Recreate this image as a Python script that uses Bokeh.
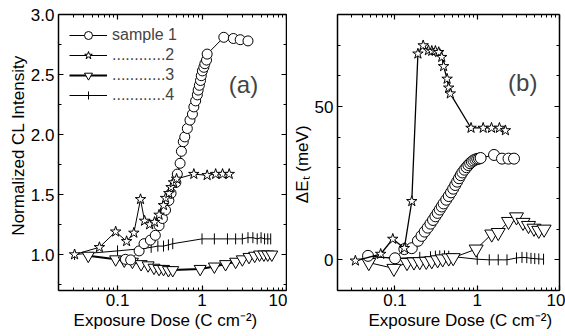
from bokeh.plotting import figure
from bokeh.layouts import row
from bokeh.models import (Range1d, FixedTicker, LogAxis, LinearAxis, Legend,
                          LegendItem, Label)
from bokeh.embed import file_html
from bokeh.resources import INLINE

# ---------------- data: panel (a) normalized CL intensity ----------------
a_s1_x = [0.124, 0.143, 0.18, 0.206, 0.245, 0.28, 0.31, 0.34, 0.37, 0.405, 0.43,
          0.49, 0.51, 0.55, 0.57, 0.60, 0.625, 0.67, 0.72, 0.77, 0.80, 0.84, 0.88,
          0.90, 0.93, 0.96, 0.98, 1.01, 1.05, 1.08, 1.13, 1.15, 1.81, 2.35, 2.83, 3.5]
a_s1_y = [0.96, 0.955, 1.03, 1.09, 1.12, 1.16, 1.24, 1.30, 1.37, 1.45, 1.51,
          1.60, 1.67, 1.76, 1.86, 1.94, 1.98, 2.05, 2.12, 2.17, 2.23, 2.28, 2.33,
          2.37, 2.41, 2.45, 2.49, 2.53, 2.56, 2.59, 2.62, 2.67, 2.81, 2.80, 2.79, 2.78]

a_s2_x = [0.031, 0.061, 0.095, 0.128, 0.156, 0.187, 0.209, 0.24, 0.274, 0.31, 0.35,
          0.37, 0.405, 0.43, 0.46, 0.50, 0.80, 1.15, 1.45, 1.75, 2.1]
a_s2_y = [1.0, 1.06, 1.19, 1.11, 1.18, 1.46, 1.28, 1.25, 1.27, 1.33, 1.41,
          1.47, 1.51, 1.56, 1.60, 1.63, 1.67, 1.66, 1.67, 1.67, 1.67]

a_s3_x = [0.045, 0.095, 0.12, 0.15, 0.19, 0.23, 0.27, 0.31, 0.35, 0.40, 0.45,
          0.95, 1.4, 1.9, 2.5, 3.0, 3.6, 4.2, 4.8, 5.4, 6.0, 6.7]
a_s3_y = [0.99, 0.96, 0.95, 0.94, 0.92, 0.91, 0.89, 0.88, 0.88, 0.87, 0.87,
          0.88, 0.90, 0.92, 0.94, 0.96, 0.98, 0.99, 1.0, 1.0, 1.0, 1.0]

a_s4_x = [0.031, 0.1, 0.2, 0.25, 0.3, 0.35, 0.4, 0.45, 1.0, 1.4, 2.0, 2.5, 3.0,
          3.5, 4.0, 4.5, 5.0, 5.5, 6.0, 6.5]
a_s4_y = [1.0, 1.03, 1.05, 1.06, 1.07, 1.07, 1.08, 1.09, 1.13, 1.13, 1.13, 1.13,
          1.13, 1.14, 1.14, 1.13, 1.14, 1.13, 1.13, 1.13]

# ---------------- data: panel (b) Delta E_t (meV) ----------------
b_s1_x = [0.047, 0.1, 0.13, 0.16, 0.19, 0.21, 0.23, 0.25, 0.27, 0.29, 0.31, 0.33,
          0.35, 0.37, 0.39, 0.42, 0.45, 0.48, 0.51, 0.54, 0.57, 0.60, 0.63, 0.66,
          0.70, 0.74, 0.78, 0.82, 0.86, 0.90, 0.95, 1.0, 1.05, 1.1, 1.6, 2.0, 2.4, 2.8]
b_s1_y = [1.3, 0.5, 3.5, 3.8, 6.2, 7.8, 9.2, 10.5, 11.8, 13.0, 14.2, 15.3,
          16.4, 17.4, 18.4, 19.6, 20.8, 22.0, 23.2, 24.4, 25.5, 26.6, 27.6, 28.5,
          29.4, 30.2, 30.9, 31.5, 32.0, 32.4, 32.7, 32.9, 33.0, 33.2, 34.2, 33.0, 33.0, 33.0]

b_s2_x = [0.033, 0.067, 0.094, 0.13, 0.16, 0.19, 0.22, 0.255, 0.28, 0.31, 0.34,
          0.37, 0.39, 0.43, 0.45, 0.47, 0.84, 1.18, 1.49, 1.86, 2.2]
b_s2_y = [-0.3, 1.9, 6.8, 3.8, 19.1, 67.2, 69.9, 68.3, 68.1, 68.1, 67.7,
          66.1, 63.1, 59.0, 56.1, 54.2, 43.0, 43.0, 43.0, 43.0, 42.2]

b_s3_x = [0.048, 0.097, 0.14, 0.17, 0.20, 0.24, 0.28, 0.33, 0.38, 0.45, 0.51,
          0.97, 1.5, 1.8, 2.4, 3.0, 3.6, 4.2, 4.9, 5.6, 6.5]
b_s3_y = [-0.9, -2.8, -0.9, -0.7, -0.6, -0.5, -0.3, 0.0, 0.3, 0.6, 0.7,
          3.5, 8.4, 8.9, 12.5, 14.0, 12.2, 11.2, 10.3, 9.6, 10.0]

b_s4_x = [0.05, 0.1, 0.2, 0.27, 0.31, 0.35, 0.40, 0.45, 1.0, 1.4, 1.8, 2.3, 3.0,
          3.5, 4.0, 4.5, 5.0, 5.6, 6.4]
b_s4_y = [1.0, 0.5, 0.8, 1.0, 1.2, 1.3, 1.3, 1.2, 0.2, 0.0, 0.0, 0.0, 0.6,
          0.8, 0.7, 0.5, 0.4, 0.3, 0.2]

legend_labels = ["sample 1", "............2", "............3", "............4"]
x_major = [0.1, 1, 10]
x_minor = [0.02, 0.03, 0.04, 0.05, 0.06, 0.07, 0.08, 0.09,
           0.2, 0.3, 0.4, 0.5, 0.6, 0.7, 0.8, 0.9,
           2, 3, 4, 5, 6, 7, 8, 9]
x_labels = {0.1: "0.1", 1: "1", 10: "10"}
a_y_major = [1.0, 1.5, 2.0, 2.5, 3.0]
a_y_minor = [0.75, 1.25, 1.75, 2.25, 2.75]
a_y_labels = {1.0: "1.0", 1.5: "1.5", 2.0: "2.0", 2.5: "2.5", 3.0: "3.0"}
b_y_major = [0, 50]
b_y_minor = [-10, 10, 20, 30, 40, 60, 70, 80]

FONT = "Liberation Sans"
NB = "\u00a0"
XTEXT = "Exposure Dose (C cm\u207b\u00b2)"
A_XLABEL = XTEXT + NB * 3
B_XLABEL = NB * 5 + XTEXT
A_YLABEL = NB * 3 + "Normalized CL Intensity"
B_YLABEL = "\u0394E\u209c (meV)" + NB * 5


def style_axis(ax, labels=True):
    ax.axis_line_width = 1.5
    ax.axis_line_color = "black"
    ax.major_tick_in = 5
    ax.major_tick_out = 0
    ax.minor_tick_in = 3
    ax.minor_tick_out = 0
    ax.major_tick_line_width = 1.2
    ax.minor_tick_line_width = 1
    ax.major_label_text_font = FONT
    ax.major_label_text_color = "black"
    ax.axis_label_text_font = FONT
    ax.axis_label_text_font_style = "normal"
    ax.axis_label_text_font_size = "17px"
    ax.axis_label_text_color = "black"
    if labels:
        ax.major_label_text_font_size = "17px"
    else:
        ax.major_label_text_font_size = "1px"
        ax.major_label_text_alpha = 0
        ax.major_label_standoff = 0


def make_panel(yr, ymaj, ymin, xlabel, ylabel, fw, mbl, mbr):
    p = figure(x_axis_type="log", x_range=Range1d(0.02, 10), y_range=yr,
               frame_width=fw, frame_height=276,
               min_border_left=mbl, min_border_right=mbr, min_border_top=14,
               min_border_bottom=46, output_backend="svg", toolbar_location=None)
    p.xgrid.visible = False
    p.ygrid.visible = False
    p.outline_line_color = None
    p.background_fill_color = "white"
    p.border_fill_color = "white"
    p.xaxis.ticker = FixedTicker(ticks=x_major, minor_ticks=x_minor)
    p.yaxis.ticker = FixedTicker(ticks=ymaj, minor_ticks=ymin)
    p.xaxis.major_label_overrides = x_labels
    p.xaxis.axis_label = xlabel
    p.yaxis.axis_label = ylabel
    for ax in p.xaxis + p.yaxis:
        style_axis(ax)
    p.xaxis.major_label_standoff = 3
    p.xaxis.axis_label_standoff = 2
    p.yaxis.major_label_standoff = 4
    p.yaxis.axis_label_standoff = 0
    top = LogAxis(ticker=FixedTicker(ticks=x_major, minor_ticks=x_minor))
    right = LinearAxis(ticker=FixedTicker(ticks=ymaj, minor_ticks=ymin))
    style_axis(top, labels=False)
    style_axis(right, labels=False)
    p.add_layout(top, "above")
    p.add_layout(right, "right")
    return p


def draw(p, xs, ys, marker, size, lw, angle=0.0):
    ln = p.line(xs, ys, line_color="black", line_width=lw)
    sc = p.scatter(xs, ys, marker=marker, size=size, angle=angle,
                   fill_color="white", line_color="black", line_width=1)
    return [ln, sc]


pa = make_panel(Range1d(0.7, 3.0), a_y_major, a_y_minor, A_XLABEL, A_YLABEL,
                228, 58, 1)
pa.yaxis[0].major_label_overrides = a_y_labels
r4 = draw(pa, a_s4_x, a_s4_y, "dash", 11, 1, angle=1.5708)
# legend-only stand-in for the vertical-bar marker (legend ignores glyph angle)
r4_leg = pa.scatter(a_s4_x, a_s4_y, marker="cross", size=11, line_color="black",
                    line_width=1, visible=False)
r3 = draw(pa, a_s3_x, a_s3_y, "inverted_triangle", 12, 2)
r1 = draw(pa, a_s1_x, a_s1_y, "circle", 10, 1)
r2 = draw(pa, a_s2_x, a_s2_y, "star", 11, 1)

leg = Legend(items=[LegendItem(label=legend_labels[0], renderers=r1),
                    LegendItem(label=legend_labels[1], renderers=r2),
                    LegendItem(label=legend_labels[2], renderers=r3),
                    LegendItem(label=legend_labels[3], renderers=[r4[0], r4_leg])],
             location="top_left", margin=11, padding=0, spacing=0,
             glyph_width=38, glyph_height=20, label_height=20, label_standoff=5,
             label_text_font=FONT, label_text_font_size="16px",
             border_line_color=None, background_fill_alpha=0)
pa.add_layout(leg)
pa.add_layout(Label(x=3.1, y=2.42, text="(a)", text_align="center",
                    text_baseline="middle", text_font=FONT, text_font_size="24px"))

pb = make_panel(Range1d(-10, 80), b_y_major, b_y_minor, B_XLABEL, B_YLABEL,
                222, 50, 6)
draw(pb, b_s4_x, b_s4_y, "dash", 11, 1, angle=1.5708)
draw(pb, b_s3_x, b_s3_y, "inverted_triangle", 14, 1)
draw(pb, b_s1_x, b_s1_y, "circle", 11, 1)
draw(pb, b_s2_x, b_s2_y, "star", 11, 1.3)
pb.add_layout(Label(x=3.57, y=57.8, text="(b)", text_align="center",
                    text_baseline="middle", text_font=FONT, text_font_size="24px"))

layout = row(pa, pb)
open("out.html", "w").write(file_html(layout, INLINE))
